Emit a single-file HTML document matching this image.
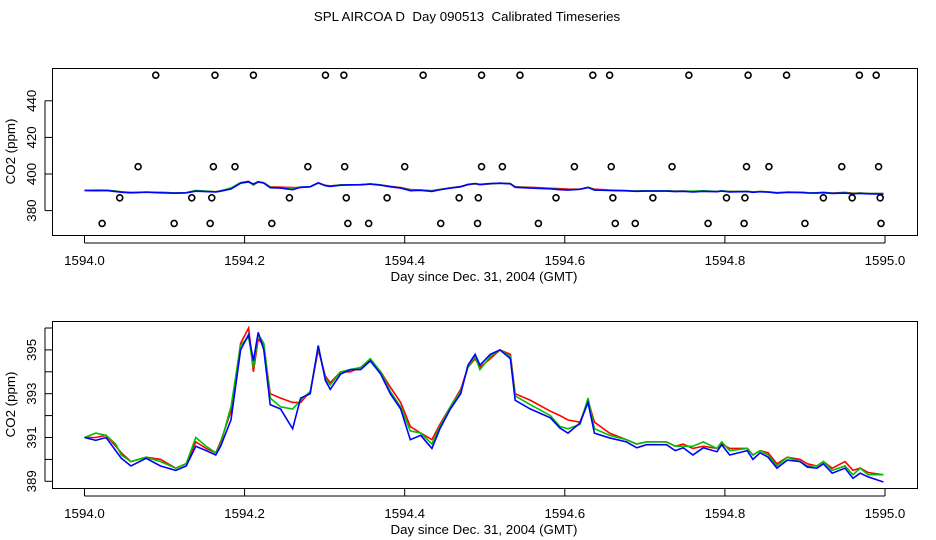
<!DOCTYPE html>
<html><head><meta charset="utf-8"><style>
body{margin:0;background:#fff;}
svg{display:block;font-family:"Liberation Sans",sans-serif;}
</style></head><body>
<svg id="c" width="936" height="540" xmlns="http://www.w3.org/2000/svg">
<text x="467" y="21" text-anchor="middle" font-size="13.3" style="white-space:pre">SPL AIRCOA D  Day 090513  Calibrated Timeseries</text>
</svg>
<script>
const days=[1594.000,1594.014,1594.027,1594.039,1594.046,1594.058,1594.077,1594.095,1594.114,1594.127,1594.139,1594.152,1594.164,1594.170,1594.183,1594.195,1594.205,1594.211,1594.217,1594.224,1594.232,1594.245,1594.260,1594.270,1594.282,1594.292,1594.301,1594.307,1594.320,1594.332,1594.345,1594.357,1594.370,1594.382,1594.395,1594.407,1594.420,1594.434,1594.444,1594.457,1594.470,1594.479,1594.488,1594.494,1594.507,1594.519,1594.532,1594.538,1594.557,1594.582,
1594.594,1594.604,1594.619,1594.629,1594.637,1594.656,1594.677,1594.690,1594.702,1594.727,1594.738,1594.748,1594.760,1594.773,1594.790,1594.796,1594.806,1594.828,1594.835,1594.844,1594.854,1594.865,1594.878,1594.894,1594.903,1594.915,1594.923,1594.934,1594.950,1594.960,1594.969,1594.979,1594.998];
const blue=[391.0,390.87,391.0,390.4,390.05,389.7,390.05,389.7,389.5,389.7,390.6,390.4,390.2,390.6,391.8,395.0,395.7,394.5,395.8,395.0,392.5,392.3,391.4,392.8,393.0,395.2,393.6,393.2,393.9,394.1,394.1,394.5,393.9,393.0,392.3,390.9,391.1,390.5,391.4,392.3,393.0,394.3,394.8,394.3,394.8,395.0,394.6,392.7,392.3,391.9,
391.43,391.2,391.66,392.6,391.2,390.98,390.8,390.53,390.67,390.67,390.4,390.53,390.2,390.53,390.35,390.67,390.2,390.4,390.0,390.3,390.1,389.6,389.97,389.9,389.65,389.6,389.8,389.37,389.6,389.14,389.37,389.2,388.97];
const red=[391.0,391.0,391.1,390.6,390.3,389.9,390.1,390.0,389.6,389.8,390.8,390.5,390.3,390.8,392.2,395.3,396.0,394.0,395.5,395.2,393.0,392.8,392.6,392.6,393.1,395.0,393.8,393.5,394.0,394.0,394.2,394.5,394.0,393.3,392.6,391.5,391.2,390.9,391.6,392.4,393.2,394.2,394.6,394.2,394.6,395.0,394.8,393.0,392.7,392.2,
392.0,391.8,391.7,392.7,391.7,391.2,390.9,390.7,390.8,390.8,390.6,390.7,390.5,390.6,390.5,390.7,390.5,390.5,390.2,390.4,390.3,389.8,390.1,390.0,389.8,389.7,389.9,389.6,389.9,389.5,389.6,389.4,389.3];
const green=[391.0,391.2,391.1,390.7,390.2,389.9,390.1,389.9,389.6,389.8,391.0,390.6,390.3,390.7,392.4,395.2,395.6,394.2,395.7,395.3,392.8,392.4,392.3,392.7,393.1,395.1,393.7,393.4,394.0,394.1,394.2,394.6,394.0,393.1,392.4,391.3,391.2,390.7,391.5,392.4,393.1,394.2,394.7,394.1,394.7,395.0,394.7,392.9,392.5,392.0,
391.5,391.4,391.6,392.8,391.4,391.1,390.9,390.7,390.8,390.8,390.6,390.6,390.6,390.8,390.5,390.8,390.4,390.5,390.2,390.4,390.2,389.7,390.1,389.9,389.7,389.7,389.9,389.5,389.7,389.3,389.6,389.3,389.3];
const ptDays=[1594.089,1594.163,1594.211,1594.301,1594.324,1594.423,1594.496,1594.544,1594.635,1594.656,1594.755,1594.829,1594.877,1594.968,1594.989,
1594.067,1594.161,1594.188,1594.279,1594.325,1594.400,1594.496,1594.522,1594.612,1594.658,1594.734,1594.827,1594.855,1594.946,1594.992,
1594.044,1594.134,1594.159,1594.256,1594.327,1594.378,1594.468,1594.492,1594.589,1594.660,1594.710,1594.802,1594.825,1594.923,1594.959,1594.994,
1594.022,1594.112,1594.157,1594.234,1594.329,1594.355,1594.445,1594.491,1594.567,1594.663,1594.688,1594.779,1594.824,1594.900,1594.995];
const ptVals=[454,454,454,454,454,454,454,454,454,454,454,454,454,454,454,
404,404,404,404,404,404,404,404,404,404,404,404,404,404,404,
387,387,387,387,387,387,387,387,387,387,387,387,387,387,387,387,
373,373,373,373,373,373,373,373,373,373,373,373,373,373,373];
const xTicks=[1594.0,1594.2,1594.4,1594.6,1594.8,1595.0];
const topTicks=[380,400,420,440];
const botTicks=[389,390,391,392,393,394,395,396];
const botLabels=[389,391,393,395];

const svg=document.getElementById('c');
const NS='http://www.w3.org/2000/svg';
function mk(t,a,p){const e=document.createElementNS(NS,t);for(const k in a)e.setAttribute(k,a[k]);(p||svg).appendChild(e);return e;}
const X=d=>84.5+(d-1594)*800.5;
function panel(top,bottom,Y,ticks,labels,name){
  const g=mk('g',{});
  
  
  const box=mk('rect',{x:52.5,y:top+.5,width:865,height:bottom-top,fill:'none',stroke:'#000'},g);
  
  
  xTicks.forEach(t=>{
    const l=mk('line',{x1:X(t),x2:X(t),y1:bottom,y2:bottom+8,stroke:'#000'},g);
    
    
    const tx=mk('text',{x:X(t),y:bottom+30,'text-anchor':'middle','font-size':13.3},g);
    tx.textContent=t.toFixed(1);
    
    
  });
  const xl=mk('line',{x1:X(1594),x2:X(1595),y1:bottom+8,y2:bottom+8,stroke:'#000'},g);
  
  
  const xt=mk('text',{x:484,y:bottom+46,'text-anchor':'middle','font-size':13.3},g);
  xt.textContent='Day since Dec. 31, 2004 (GMT)';
  
  
  ticks.forEach(t=>{
    const l=mk('line',{x1:45,x2:52.5,y1:Y(t),y2:Y(t),stroke:'#000'},g);
    
    
  });
  const yl=mk('line',{x1:45,x2:45,y1:Y(ticks[0]),y2:Y(ticks[ticks.length-1]),stroke:'#000'},g);
  
  
  labels.forEach(t=>{
    const tx=mk('text',{x:0,y:0,'text-anchor':'middle','font-size':13.3,transform:`translate(36,${Y(t)}) rotate(-90)`},g);
    tx.textContent=t;
    
    
  });
  const yt=mk('text',{x:0,y:0,'text-anchor':'middle','font-size':13.3,transform:`translate(15,${(top+bottom)/2}) rotate(-90)`},g);
  yt.textContent='CO2 (ppm)';
  
  
  [['red',red,'red-series'],['#00c000',green,'green-series'],['blue',blue,'blue-series']].forEach(([c,arr,n])=>{
    const p=mk('polyline',{points:days.map((d,i)=>X(d)+','+Y(arr[i])).join(' '),fill:'none',stroke:c,'stroke-width':1.6},g);
    
    
  });
  return g;
}
const Yt=v=>174-(v-400)*1.83;
const gt=panel(68,235,Yt,topTicks,topTicks,'top-panel');
ptDays.forEach((d,i)=>{
  const c=mk('circle',{cx:X(d),cy:Yt(ptVals[i]),r:3,fill:'none',stroke:'#000','stroke-width':1.6},gt);
  
  
});
const Yb=v=>437.5-(v-391)*21.9;
panel(321,488,Yb,botTicks,botLabels,'bottom-panel');
</script>
</body></html>
